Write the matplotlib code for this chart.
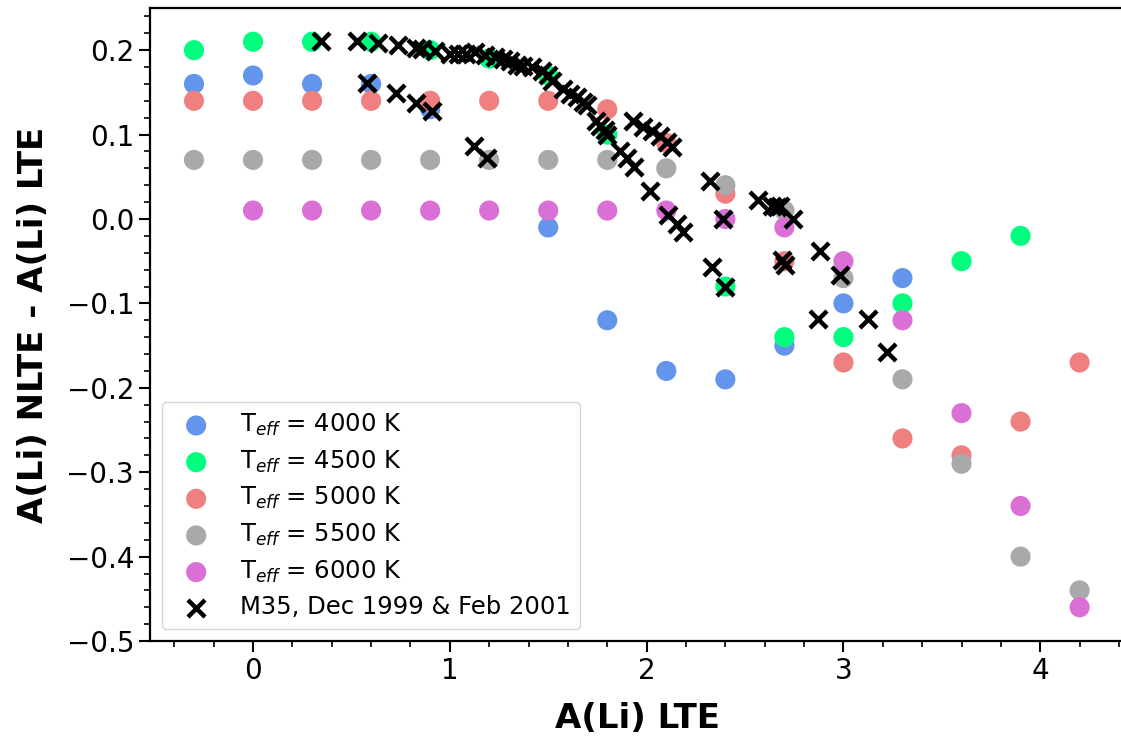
import numpy as np
import matplotlib
matplotlib.use('Agg')
import matplotlib.pyplot as plt
from matplotlib.ticker import MultipleLocator

# NLTE corrections on the A(Li) LTE grid, one array per Teff
a_grid = [-0.3, 0.0, 0.3, 0.6, 0.9, 1.2, 1.5, 1.8, 2.1, 2.4, 2.7, 3.0, 3.3, 3.6, 3.9, 4.2]

x_4000 = [-0.3, 0.0, 0.3, 0.6, 0.9, 1.5, 1.8, 2.1, 2.4, 2.7, 3.0, 3.3]
d_4000 = [0.16, 0.17, 0.16, 0.16, 0.13, -0.01, -0.12, -0.18, -0.19, -0.15, -0.10, -0.07]

x_4500 = [-0.3, 0.0, 0.3, 0.6, 0.9, 1.2, 1.5, 1.8, 2.4, 2.7, 3.0, 3.3, 3.6, 3.9]
d_4500 = [0.20, 0.21, 0.21, 0.21, 0.20, 0.19, 0.17, 0.10, -0.08, -0.14, -0.14, -0.10, -0.05, -0.02]

x_5000 = a_grid
d_5000 = [0.14, 0.14, 0.14, 0.14, 0.14, 0.14, 0.14, 0.13, 0.09, 0.03, -0.05, -0.17, -0.26, -0.28, -0.24, -0.17]

x_5500 = a_grid
d_5500 = [0.07, 0.07, 0.07, 0.07, 0.07, 0.07, 0.07, 0.07, 0.06, 0.04, 0.01, -0.07, -0.19, -0.29, -0.40, -0.44]

x_6000 = a_grid[1:]
d_6000 = [0.01, 0.01, 0.01, 0.01, 0.01, 0.01, 0.01, 0.01, 0.00, -0.01, -0.05, -0.12, -0.23, -0.34, -0.46]

# M35 stars
m35_x = [0.346, 0.529, 0.635, 0.737, 0.828, 0.859, 0.925, 1.001, 1.042, 1.083,
         1.128, 1.179, 1.230, 1.271, 1.306, 1.342, 1.372, 1.418, 1.469, 1.499,
         1.520, 1.576, 1.611, 1.647, 1.677, 1.698, 1.743, 1.764, 1.789, 1.799,
         1.865, 1.901, 1.937, 2.018, 2.109, 2.155, 2.185,
         1.931, 1.982, 2.028, 2.069, 2.104, 2.129,
         0.579, 0.727, 0.828, 0.910, 1.123, 1.189,
         2.323, 2.389, 2.333, 2.399, 2.567, 2.638, 2.663, 2.679, 2.745, 2.689,
         2.704, 2.882, 2.983, 2.872, 3.126, 3.222]
m35_d = [0.211, 0.211, 0.209, 0.206, 0.202, 0.201, 0.199, 0.196, 0.195, 0.195,
         0.198, 0.194, 0.192, 0.189, 0.187, 0.183, 0.181, 0.180, 0.175, 0.170,
         0.163, 0.154, 0.148, 0.144, 0.139, 0.135, 0.116, 0.110, 0.106, 0.100,
         0.081, 0.072, 0.062, 0.033, 0.005, -0.006, -0.016,
         0.116, 0.109, 0.104, 0.098, 0.091, 0.085,
         0.161, 0.149, 0.137, 0.128, 0.087, 0.072,
         0.045, 0.000, -0.057, -0.080, 0.023, 0.015, 0.014, 0.015, 0.000, -0.048,
         -0.054, -0.038, -0.066, -0.119, -0.119, -0.158]

teff = [4000, 4500, 5000, 5500, 6000]
cols = ['cornflowerblue', 'springgreen', 'lightcoral', 'darkgray', 'orchid']
xs = [x_4000, x_4500, x_5000, x_5500, x_6000]
ds = [d_4000, d_4500, d_5000, d_5500, d_6000]

fig = plt.figure(figsize=(11.21, 7.38), dpi=100)
ax = fig.add_axes([0.1338, 0.1314, 0.870, 0.8578])

for T, c, x, d in zip(teff, cols, xs, ds):
    ax.scatter(x, d, s=210, color=c, edgecolors='none', label=r'T$_{eff}$ = %d K' % T)
ax.scatter(m35_x, m35_d, s=150, marker='x', color='k', linewidths=3.2,
           label='M35, Dec 1999 & Feb 2001')

ax.set_xlim(-0.5235, 4.432)
ax.set_ylim(-0.5, 0.25)
ax.xaxis.set_major_locator(MultipleLocator(1))
ax.xaxis.set_minor_locator(MultipleLocator(0.2))
ax.yaxis.set_major_locator(MultipleLocator(0.1))
ax.yaxis.set_minor_locator(MultipleLocator(0.02))
ax.tick_params(which='major', labelsize=20, length=8, width=1.5)
ax.tick_params(which='minor', length=4.5, width=1.2)
for sp in ax.spines.values():
    sp.set_linewidth(1.6)

ax.set_xlabel('A(Li) LTE', fontsize=24.5, fontweight='bold', labelpad=12)
ax.set_ylabel('A(Li) NLTE - A(Li) LTE', fontsize=24.5, fontweight='bold', labelpad=12)

ax.legend(loc='lower left', fontsize=17.5, borderaxespad=0.5, labelspacing=0.43)

fig.savefig('out.png', dpi=100)
